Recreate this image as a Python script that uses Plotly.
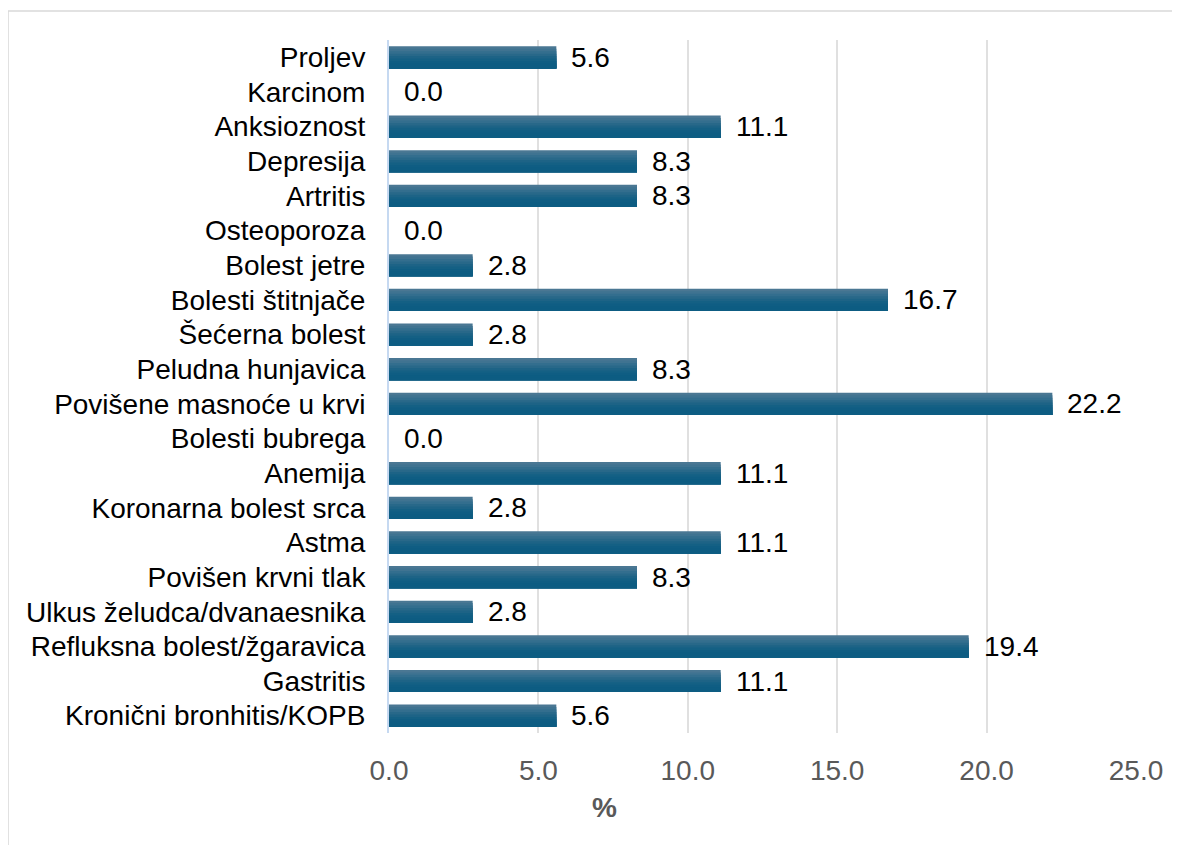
import plotly.graph_objects as go

# categories listed top to bottom as shown in the chart
categories = [
    "Proljev", "Karcinom", "Anksioznost", "Depresija", "Artritis",
    "Osteoporoza", "Bolest jetre", "Bolesti štitnjače", "Šećerna bolest",
    "Peludna hunjavica", "Povišene masnoće u krvi", "Bolesti bubrega",
    "Anemija", "Koronarna bolest srca", "Astma", "Povišen krvni tlak",
    "Ulkus želudca/dvanaesnika", "Refluksna bolest/žgaravica", "Gastritis",
    "Kronični bronhitis/KOPB",
]
values = [5.6, 0.0, 11.1, 8.3, 8.3, 0.0, 2.8, 16.7, 2.8, 8.3,
          22.2, 0.0, 11.1, 2.8, 11.1, 8.3, 2.8, 19.4, 11.1, 5.6]
x_ticks = [0, 5, 10, 15, 20, 25]

# bottom-to-top order for the category axis
cats = categories[::-1]
vals = values[::-1]

FONT = "Liberation Sans, Arial"
FS = 28

fig = go.Figure()

# fake a vertical gradient: nested bars all anchored at the bar bottom,
# lightest (full height) drawn first, darker shorter ones on top
grad_colors = ["#4a7793", "#3f7391", "#336e8e", "#286889", "#1d6386",
               "#146084", "#0f5d83", "#0d5c82", "#0d5c82"]
bar_h = 0.64
n = len(grad_colors)
for i, c in enumerate(grad_colors):
    h = bar_h * (n - i) / n
    fig.add_trace(go.Bar(
        x=vals, y=cats, orientation="h",
        width=h, offset=-bar_h / 2,
        marker=dict(color=c, line=dict(width=0)),
        showlegend=False, hoverinfo="skip",
    ))

for v, c in zip(vals, cats):
    fig.add_annotation(
        x=v, y=c, text=f"{v:.1f}", showarrow=False,
        xanchor="left", xshift=13,
        font=dict(family=FONT, size=FS, color="#000000"),
    )

# axis title sits left of the plot centre in the original
fig.add_annotation(
    xref="paper", yref="paper", x=0.288, y=-0.107,
    text="<b>%</b>", showarrow=False, xanchor="center", yanchor="middle",
    font=dict(family=FONT, size=FS, color="#595959"),
)

# outer chart border
fig.add_shape(type="rect", xref="paper", yref="paper",
              x0=-0.51, x1=1.07, y0=-0.17, y1=1.042,
              line=dict(color="#d9d9d9", width=1.5), layer="below")

fig.update_layout(
    width=1180, height=845,
    barmode="overlay",
    paper_bgcolor="white", plot_bgcolor="white",
    margin=dict(l=381, r=52, t=32, b=120),
    font=dict(family=FONT, size=FS, color="#000000"),
    xaxis=dict(
        range=[0, 25], tickvals=x_ticks, tickformat=".1f",
        showgrid=True, gridcolor="#e0e0e0", gridwidth=1.5,
        zeroline=False, showline=False,
        tickfont=dict(size=FS, color="#595959"),
        ticks="outside", ticklen=12, tickcolor="rgba(0,0,0,0)",
    ),
    yaxis=dict(
        categoryorder="array", categoryarray=cats,
        showline=True, linecolor="#c6d9f1", linewidth=2,
        showgrid=False, zeroline=False,
        ticks="outside", ticklen=16, tickcolor="rgba(0,0,0,0)",
        tickfont=dict(size=FS, color="#000000"),
        range=[-0.5, len(cats) - 0.5],
    ),
)

fig.write_html("out.html")
